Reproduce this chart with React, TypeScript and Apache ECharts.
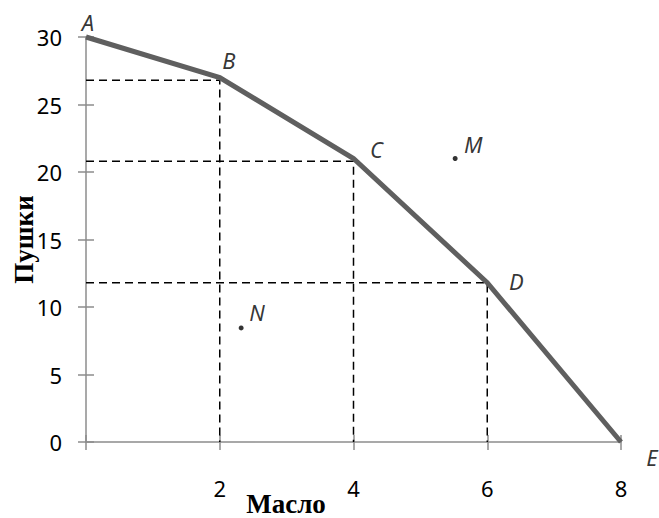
import React, { useEffect, useRef } from "react";
import * as echarts from "echarts";

const curveX = [0, 2, 4, 6, 8];
const curveY = [30, 27, 21, 11.8, 0];
const curveNames = ["A", "B", "C", "D", "E"];
const guideX = [2, 4, 6];
const guideY = [26.8, 20.8, 11.8];
const extraPts = [
  { name: "M", x: 5.52, y: 21.0 },
  { name: "N", x: 2.32, y: 8.45 },
];
const xTicks = { min: 0, max: 8, interval: 2 };
const yTicks = { min: 0, max: 30, interval: 5 };

const labelOffsets: Record<string, [number, number]> = {
  A: [2, -15],
  B: [9, -18],
  C: [23, -10],
  D: [29, -2],
  E: [31, 15],
  M: [18, -15],
  N: [16, -16],
};

export default function App() {
  const ref = useRef<HTMLDivElement>(null);
  useEffect(() => {
    document.body.style.margin = "0";
    if (!ref.current) return;
    const chart = echarts.init(ref.current, null, { renderer: "svg" });
    const axisColor = "#8c8c8c";
    const tickFont = { fontSize: 22, color: "#000", fontFamily: "Noto Sans" };
    const letterLabel = (n: string) => ({
      show: true,
      formatter: n,
      position: "inside" as const,
      offset: labelOffsets[n],
      fontSize: 22,
      fontStyle: "italic" as const,
      fontFamily: "Noto Sans",
      color: "#000",
    });
    const guideSeries = guideX.map((gx, i) => ({
      type: "line" as const,
      data: [
        [0, guideY[i]],
        [gx, guideY[i]],
        [gx, 0],
      ],
      symbol: "none",
      lineStyle: { color: "#000", width: 1.5, type: [8, 5] },
      z: 1,
      silent: true,
    }));
    chart.setOption({
      animation: false,
      grid: {
        left: 86,
        right: 38,
        top: 37,
        bottom: 76,
        containLabel: false,
        outerBoundsMode: "none",
      },
      xAxis: [
        {
          type: "value",
          ...xTicks,
          axisLine: { show: true, lineStyle: { color: axisColor, width: 1.5 } },
          axisTick: { show: true, length: 8, lineStyle: { color: axisColor, width: 1.5 } },
          axisLabel: {
            ...tickFont,
            margin: 35,
            formatter: (v: number) => (v === 0 ? "" : String(v)),
          },
          splitLine: { show: false },
          name: "Масло",
          nameLocation: "middle",
          nameGap: 48,
          nameMoveOverlap: false,
          nameTextStyle: {
            fontSize: 27,
            fontWeight: "bold",
            fontFamily: "Liberation Serif",
            color: "#000",
            padding: [0, 0, 0, -135],
          },
        },
        {
          type: "value",
          ...xTicks,
          position: "bottom",
          axisLine: { show: false },
          axisTick: { show: true, inside: true, length: 7, lineStyle: { color: axisColor, width: 1.5 } },
          axisLabel: { show: false },
          splitLine: { show: false },
        },
      ],
      yAxis: [
        {
          type: "value",
          ...yTicks,
          axisLine: { show: true, lineStyle: { color: axisColor, width: 1.5 } },
          axisTick: { show: true, length: 8, lineStyle: { color: axisColor, width: 1.5 } },
          axisLabel: { ...tickFont, margin: 24 },
          splitLine: { show: false },
          name: "Пушки",
          nameLocation: "middle",
          nameGap: 49,
          nameMoveOverlap: false,
          nameRotate: 90,
          nameTextStyle: {
            fontSize: 27,
            fontWeight: "bold",
            fontFamily: "Liberation Serif",
            color: "#000",
          },
        },
        {
          type: "value",
          ...yTicks,
          position: "left",
          axisLine: { show: false },
          axisTick: { show: true, inside: true, length: 8, lineStyle: { color: axisColor, width: 1.5 } },
          axisLabel: { show: false },
          splitLine: { show: false },
        },
      ],
      series: [
        ...guideSeries,
        {
          type: "line",
          data: curveX.map((x, i) => [x, curveY[i]]),
          symbol: "none",
          clip: false,
          lineStyle: { color: "#5f5f5f", width: 5, join: "miter" },
          z: 3,
        },
        {
          type: "scatter",
          symbolSize: 0,
          clip: false,
          data: curveX.map((x, i) => ({
            value: [x, curveY[i]],
            label: letterLabel(curveNames[i]),
          })),
          z: 4,
        },
        {
          type: "scatter",
          symbolSize: 5,
          clip: false,
          itemStyle: { color: "#000" },
          data: extraPts.map((p) => ({
            value: [p.x, p.y],
            label: letterLabel(p.name),
          })),
          z: 4,
        },
      ],
    });
    return () => chart.dispose();
  }, []);
  return <div ref={ref} style={{ width: 659, height: 518 }} />;
}
